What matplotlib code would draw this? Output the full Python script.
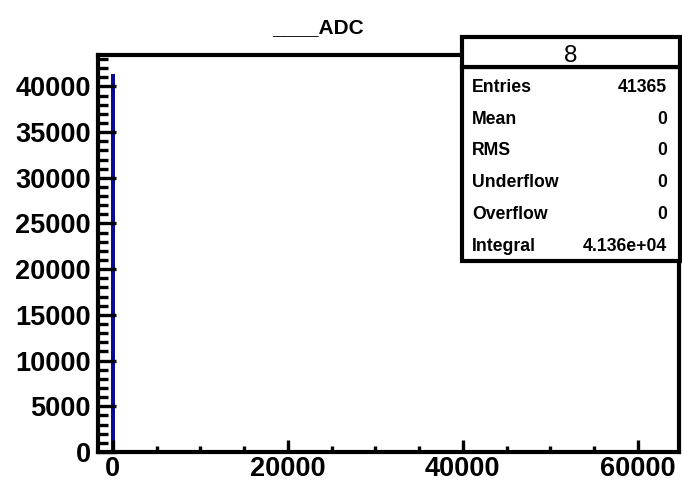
import matplotlib
matplotlib.use("Agg")
import matplotlib.pyplot as plt
from matplotlib.patches import Rectangle
from matplotlib.ticker import MultipleLocator
import numpy as np

# Histogram content: every entry falls in the first ADC bin
bin_centers = [0]
bin_counts = [41365]
bin_width = 420

hist_title = "____ADC"
stats_name = "8"
stats_labels = ["Entries", "Mean", "RMS", "Underflow", "Overflow", "Integral"]
entries = 41365
mean_val = 0
rms_val = 0
underflow = 0
overflow = 0

W, H = 682, 482
fig = plt.figure(figsize=(W / 100, H / 100), dpi=100)
fig.patch.set_facecolor("white")

def fx(x):
    return x / W

def fy(y):
    return 1 - y / H

FONT = "Liberation Sans"
LINE = "black"
HIST = "#0c0c92"

ax = fig.add_axes([fx(98), fy(452), fx(679) - fx(98), fy(55) - fy(452)])
ax.bar(bin_centers, bin_counts, width=bin_width, color=HIST, linewidth=0)

ymax = 1.05 * max(bin_counts)
ax.set_xlim(-1700, 64700)
ax.set_ylim(0, ymax)

for side in ["left", "bottom", "top", "right"]:
    ax.spines[side].set_linewidth(3)
    ax.spines[side].set_color(LINE)

ax.xaxis.set_major_locator(MultipleLocator(20000))
ax.xaxis.set_minor_locator(MultipleLocator(5000))
ax.yaxis.set_major_locator(MultipleLocator(5000))
ax.yaxis.set_minor_locator(MultipleLocator(1000))

ax.tick_params(axis="y", which="major", direction="in", length=13, width=2.4,
               pad=5, labelsize=19.5, left=True, right=False)
ax.tick_params(axis="y", which="minor", direction="in", length=7, width=2.4,
               left=True, right=False)
ax.tick_params(axis="x", which="major", direction="in", length=9, width=2.4,
               pad=3, labelsize=19.5, bottom=True, top=False)
ax.tick_params(axis="x", which="minor", direction="in", length=4, width=2.4,
               bottom=True, top=False)
for lbl in ax.get_xticklabels() + ax.get_yticklabels():
    lbl.set_fontfamily(FONT)
    lbl.set_fontweight("bold")

# Title
fig.text(fx(318), fy(33), hist_title, ha="center", va="baseline",
         fontsize=15, fontweight="bold", family=FONT)

# Statistics box
box_l, box_r = 462, 680
box_t, box_sep, box_b = 37, 67, 261
fig.add_artist(Rectangle((fx(box_l), fy(box_b)), fx(box_r) - fx(box_l),
                         fy(box_sep) - fy(box_b), transform=fig.transFigure,
                         facecolor="white", edgecolor=LINE, linewidth=3,
                         zorder=5))
fig.add_artist(Rectangle((fx(box_l), fy(box_sep)), fx(box_r) - fx(box_l),
                         fy(box_t) - fy(box_sep), transform=fig.transFigure,
                         facecolor="white", edgecolor=LINE, linewidth=3,
                         zorder=5))
fig.text(fx((box_l + box_r) / 2), fy(62), stats_name, ha="center",
         va="baseline", fontsize=17.5, family=FONT, zorder=6)

integral = float(np.sum(bin_counts))
stats_values = [str(entries), f"{mean_val:g}", f"{rms_val:g}",
                f"{underflow:g}", f"{overflow:g}", f"{integral:.3e}"]
for i, (lab, val) in enumerate(zip(stats_labels, stats_values)):
    base = 92 + 31.7 * i
    fig.text(fx(472), fy(base), lab, ha="left", va="baseline",
             fontsize=12.7, fontweight="bold", family=FONT, zorder=6)
    fig.text(fx(667), fy(base), val, ha="right", va="baseline",
             fontsize=12.7, fontweight="bold", family=FONT, zorder=6)

fig.savefig("out.png", dpi=100)
